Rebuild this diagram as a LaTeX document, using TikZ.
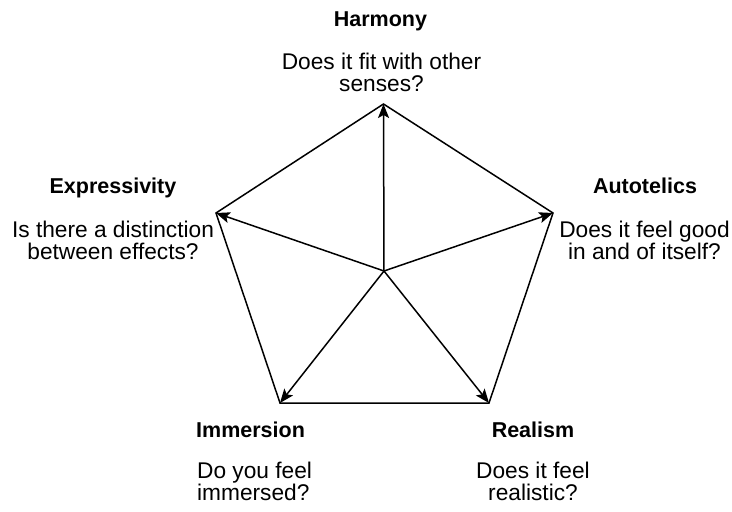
\documentclass[tikz,border=0pt]{standalone}
\usepackage{fontspec}
\setmainfont{Liberation Sans}
\usetikzlibrary{arrows.meta}

\tikzset{
  edge/.style={line width=1.5pt},
  spoke/.style={line width=1.5pt,-{Stealth[length=14pt,width=11pt,inset=3pt]}},
  title/.style={font=\bfseries\fontsize{21.5}{21.5}\selectfont,anchor=base,inner sep=0pt},
  question/.style={font=\fontsize{22.7}{22}\selectfont,align=center,anchor=north,inner sep=0pt},
}

\begin{document}
\begin{tikzpicture}[x=1pt,y=-1pt]
  \useasboundingbox (0,0) rectangle (732,512);

  % corners of the pentagon and its centre
  \coordinate (harmony) at (383.5,104);
  \coordinate (autotelics) at (553,213);
  \coordinate (realism) at (489,403);
  \coordinate (immersion) at (280,403);
  \coordinate (expressivity) at (216,213);
  \coordinate (centre) at (384,271);

  \draw[edge] (harmony) -- (autotelics) -- (realism) -- (immersion) -- (expressivity) -- cycle;

  \foreach \corner in {harmony,autotelics,realism,immersion,expressivity}
    \draw[spoke] (centre) -- (\corner);

  % labels
  \node[title] (harmonyT) at (380.5,26) {Harmony};
  \node[question] (harmonyQ) at (381.5,52.5) {Does it fit with other\\senses?};

  \node[title] (expressivityT) at (113,193) {Expressivity};
  \node[question] (expressivityQ) at (113,220.5) {Is there a distinction\\between effects?};

  \node[title] (autotelicsT) at (645,193) {Autotelics};
  \node[question] (autotelicsQ) at (644.5,220.5) {Does it feel good\\in and of itself?};

  \node[title,anchor=base west] (immersionT) at (196,437) {Immersion};
  \node[question,align=left,anchor=north west] (immersionQ) at (197,461.5) {Do you feel\\immersed?};

  \node[title] (realismT) at (533,437) {Realism};
  \node[question] (realismQ) at (533,461.5) {Does it feel\\realistic?};
\end{tikzpicture}
\end{document}
